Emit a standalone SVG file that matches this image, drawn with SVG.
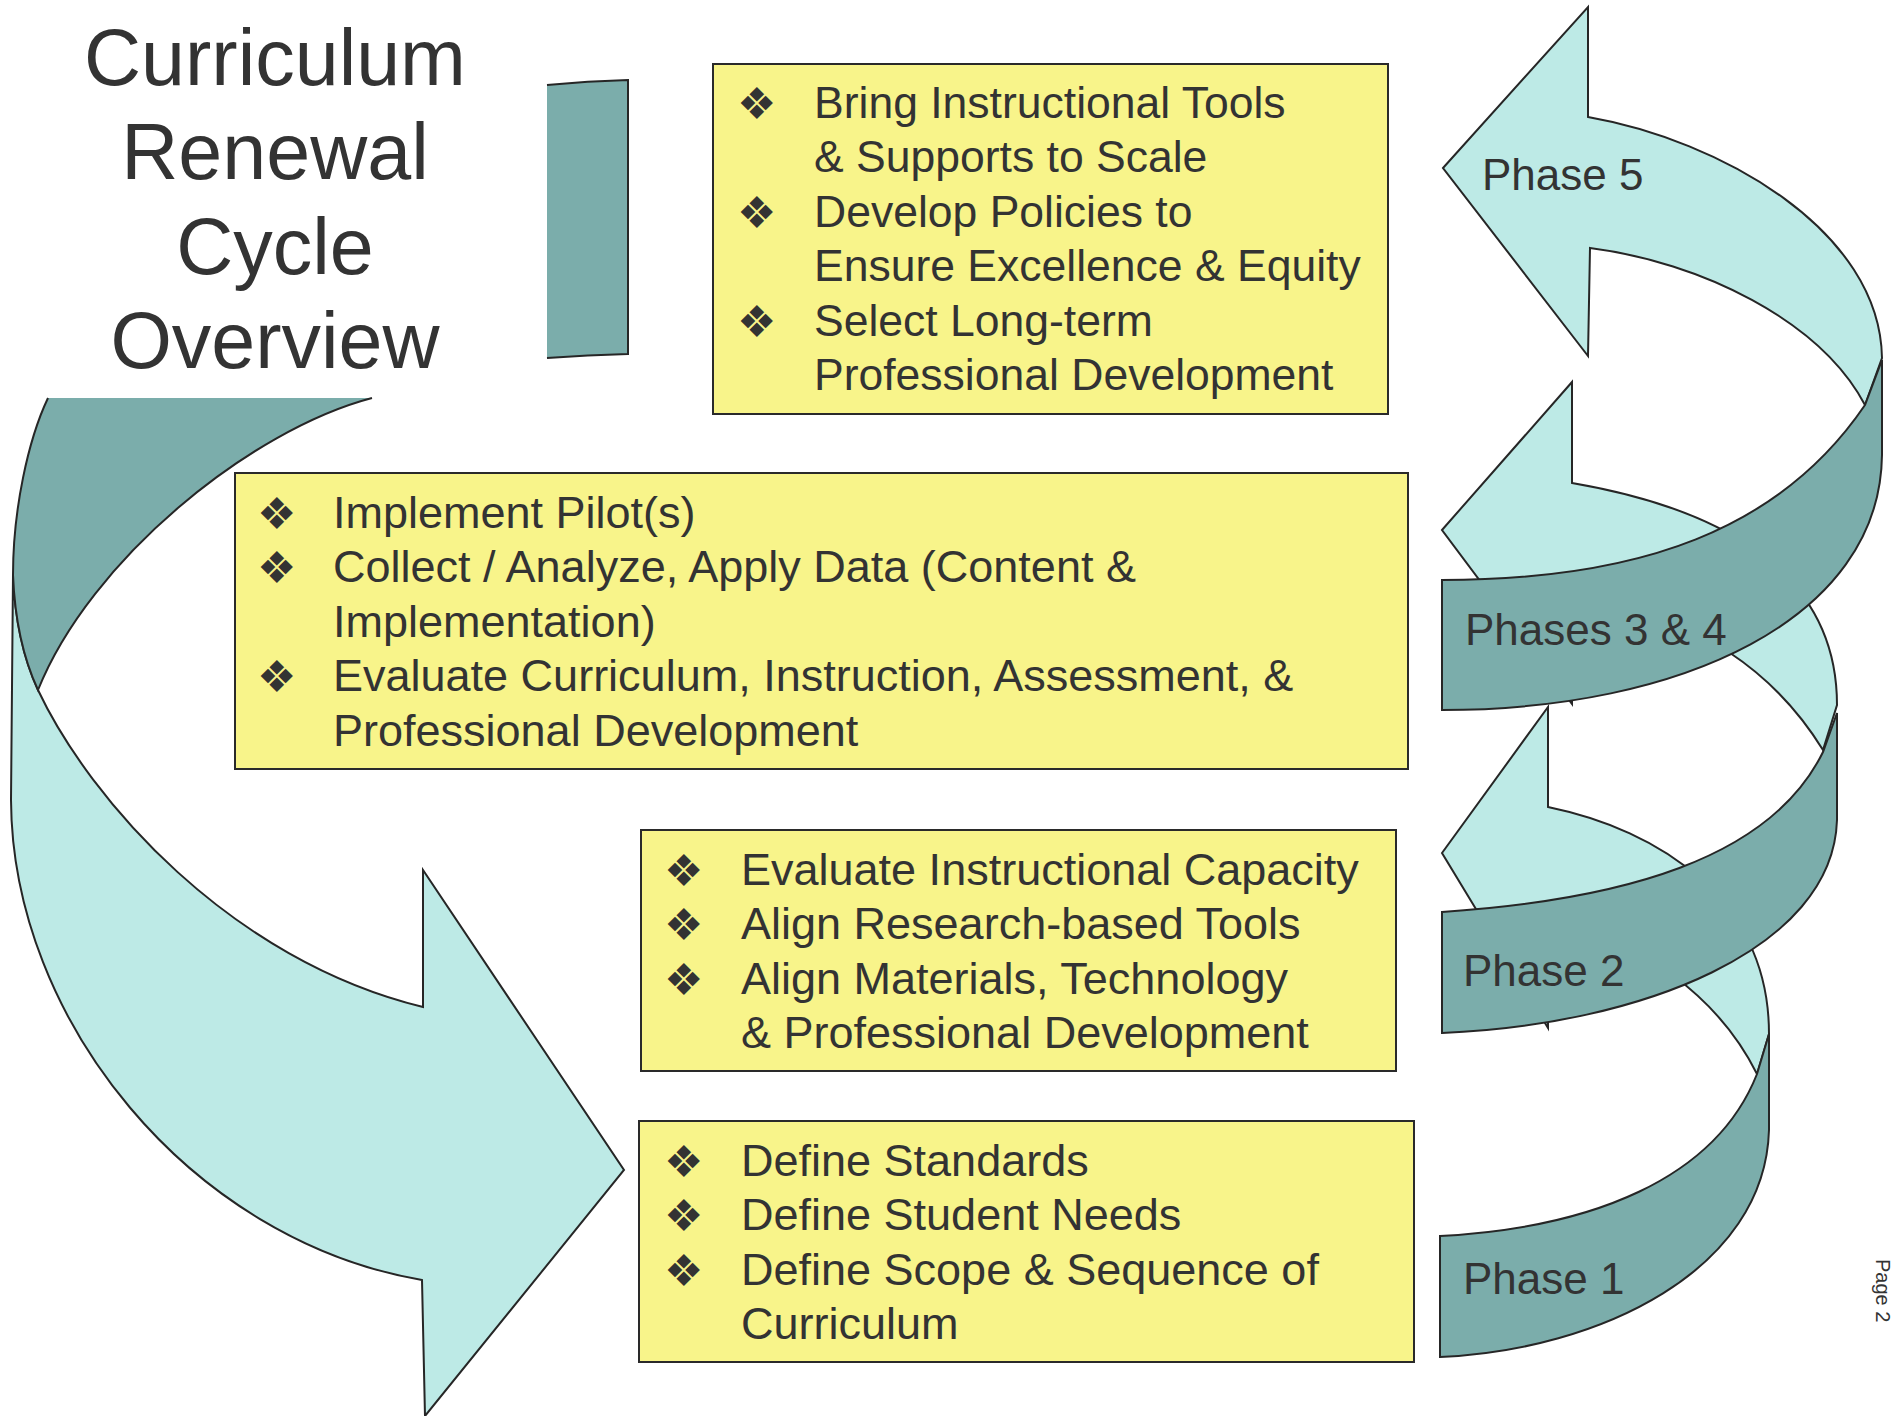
<svg xmlns="http://www.w3.org/2000/svg" width="1892" height="1416" viewBox="0 0 1892 1416">
<style>
.box{fill:#f8f48a;stroke:#2a2a2a;stroke-width:2}
.light{fill:#bdeae6;stroke:#262626;stroke-width:2;stroke-linejoin:miter}
.dark{fill:#7badab;stroke:#262626;stroke-width:2}
.nofill{fill:none;stroke:#262626;stroke-width:2}
.fillonly-d{fill:#7badab;stroke:none}
.t{font-family:"Liberation Sans",Arial,sans-serif;fill:#333333}
.bt{font-size:45px}
.tt{font-size:44.5px}
.ph{font-size:44px}
.title{font-size:79px;text-anchor:middle}
.bul{font-family:"DejaVu Sans",sans-serif;font-size:44px;fill:#333333}
</style>
<rect width="1892" height="1416" fill="#ffffff"/>

<g id="connectors">
  <g id="left-arrow">
    <path class="fillonly-d" d="M 547,85 Q 588,81 628,80 L 628,354 Q 588,355 547,358 Z"/>
    <path class="nofill" d="M 547,85 Q 588,81 628,80 L 628,354 Q 588,355 547,358"/>
    <path class="light" d="M 38,690 C 90,800 230,960 423,1007 L 423,870 L 624,1170 L 425,1416 L 422,1280 C 190,1240 12,1020 11,800 L 13,575 C 15,625 25,662 38,690 Z"/>
    <path class="fillonly-d" d="M 48,398 L 372,398 C 250,430 90,560 38,690 C 25,662 15,625 13,575 C 13,510 28,440 48,398 Z"/>
    <path class="nofill" d="M 48,398 C 28,440 13,510 13,575 C 15,625 25,662 38,690 C 90,560 250,430 372,398"/>
  </g>
  <g id="helix">
    <path id="phase5-arrow" class="light" d="M 1443,168 L 1588,7 L 1588,117 C 1720,140 1880,230 1882,358 L 1865,405 C 1820,320 1700,262 1590,248 L 1588,356 Z"/>
    <path id="phase34-arrow" class="light" d="M 1442,530 L 1572,382 L 1572,483 C 1700,505 1837,560 1837,705 L 1823,750 C 1780,680 1700,610 1572,600 L 1572,704 Z"/>
    <path id="phase2-arrow" class="light" d="M 1442,853 L 1548,707 L 1548,807 C 1660,830 1769,900 1769,1034 L 1757,1074 C 1720,1000 1640,935 1548,925 L 1548,1028 Z"/>
    <path id="phase34-band" class="dark" d="M 1442,580 C 1640,580 1780,530 1865,405 L 1882,360 L 1882,455 C 1880,620 1680,710 1442,710 Z"/>
    <path id="phase2-band" class="dark" d="M 1442,912 C 1620,900 1770,860 1823,752 L 1837,713 L 1837,820 C 1833,950 1640,1025 1442,1033 Z"/>
    <path id="phase1-band" class="dark" d="M 1440,1236 C 1590,1228 1715,1180 1757,1074 L 1769,1034 L 1769,1130 C 1765,1270 1600,1350 1440,1357 Z"/>
    <text class="t ph" x="1482" y="190">Phase 5</text>
    <text class="t ph" x="1465" y="645">Phases 3 &amp; 4</text>
    <text class="t ph" x="1463" y="986">Phase 2</text>
    <text class="t ph" x="1463" y="1294">Phase 1</text>
  </g>
</g>

<g id="title">
  <text class="t title" x="275" y="85">Curriculum</text>
  <text class="t title" x="275" y="179">Renewal</text>
  <text class="t title" x="275" y="274">Cycle</text>
  <text class="t title" x="275" y="368">Overview</text>
</g>

<g id="box-phase5">
  <rect class="box" x="713" y="64" width="675" height="350"/>
  <text class="bul" x="737" y="119">❖</text>
  <text class="bul" x="737" y="228">❖</text>
  <text class="bul" x="737" y="337">❖</text>
  <text class="t tt" x="814" y="118">Bring Instructional Tools</text>
  <text class="t tt" x="814" y="172">&amp; Supports to Scale</text>
  <text class="t tt" x="814" y="227">Develop Policies to</text>
  <text class="t tt" x="814" y="281">Ensure Excellence &amp; Equity</text>
  <text class="t tt" x="814" y="336">Select Long-term</text>
  <text class="t tt" x="814" y="390">Professional Development</text>
</g>

<g id="box-phase34">
  <rect class="box" x="235" y="473" width="1173" height="296"/>
  <text class="bul" x="257" y="529">❖</text>
  <text class="bul" x="257" y="583">❖</text>
  <text class="bul" x="257" y="692">❖</text>
  <text class="t bt" x="333" y="528">Implement Pilot(s)</text>
  <text class="t bt" x="333" y="582">Collect / Analyze, Apply Data (Content &amp;</text>
  <text class="t bt" x="333" y="637">Implementation)</text>
  <text class="t bt" x="333" y="691">Evaluate Curriculum, Instruction, Assessment, &amp;</text>
  <text class="t bt" x="333" y="746">Professional Development</text>
</g>

<g id="box-phase2">
  <rect class="box" x="641" y="830" width="755" height="241"/>
  <text class="bul" x="664" y="886">❖</text>
  <text class="bul" x="664" y="940">❖</text>
  <text class="bul" x="664" y="995">❖</text>
  <text class="t bt" x="741" y="885">Evaluate Instructional Capacity</text>
  <text class="t bt" x="741" y="939">Align Research-based Tools</text>
  <text class="t bt" x="741" y="994">Align Materials, Technology</text>
  <text class="t bt" x="741" y="1048">&amp; Professional Development</text>
</g>

<g id="box-phase1">
  <rect class="box" x="639" y="1121" width="775" height="241"/>
  <text class="bul" x="664" y="1177">❖</text>
  <text class="bul" x="664" y="1231">❖</text>
  <text class="bul" x="664" y="1286">❖</text>
  <text class="t bt" x="741" y="1176">Define Standards</text>
  <text class="t bt" x="741" y="1230">Define Student Needs</text>
  <text class="t bt" x="741" y="1285">Define Scope &amp; Sequence of</text>
  <text class="t bt" x="741" y="1339">Curriculum</text>
</g>

<g id="page-number">
  <text class="t" font-size="20" transform="translate(1876,1259) rotate(90)">Page 2</text>
</g>
</svg>
